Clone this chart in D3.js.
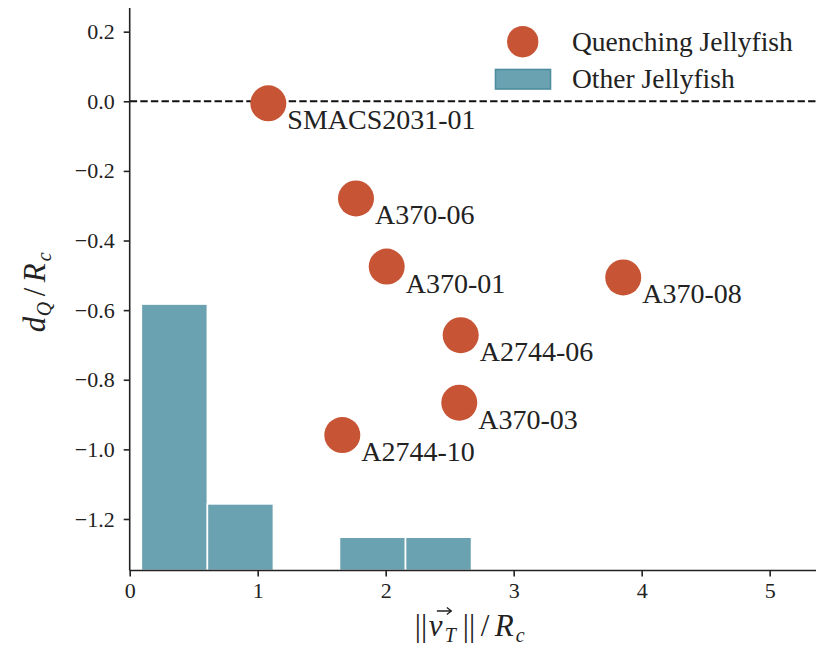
<!DOCTYPE html>
<html>
<head>
<meta charset="utf-8">
<script src="https://cdn.jsdelivr.net/npm/d3@7"></script>
<style>
  html, body { margin: 0; padding: 0; background: #fff; }
  svg { display: block; }
  text { font-family: "Liberation Serif", "Times New Roman", serif; fill: #222; }
</style>
</head>
<body>
<svg id="chart" width="816" height="648"></svg>
<script>
// Quenching jellyfish: projected velocity vs. quenching distance
const galaxyNames = ["SMACS2031-01", "A370-06", "A370-01", "A370-08", "A2744-06", "A370-03", "A2744-10"];
const velocityValues = [1.083, 1.768, 2.008, 3.856, 2.586, 2.575, 1.661];
const quenchDistValues = [-0.006, -0.279, -0.475, -0.506, -0.672, -0.866, -0.959];

// Other jellyfish: histogram of ||v_T||/R_c
const binEdges = [0.091, 0.607, 1.123, 1.639, 2.155, 2.671];
const binCounts = [8, 2, 0, 1, 1];

const xTickValues = [0, 1, 2, 3, 4, 5];
const yTickValues = [0.2, 0.0, -0.2, -0.4, -0.6, -0.8, -1.0, -1.2];
const legendLabels = ["Quenching Jellyfish", "Other Jellyfish"];

const xDomain = [0, 5.362];
const yDomain = [-1.348, 0.268];
const histPeak = -0.5825; // top of the tallest histogram bar, in d_Q/R_c units

const orange = "#c75434";
const teal = "#6ba2b1";
const tealEdge = "#4d8d9e";
const ink = "#222";

const svg = d3.select("#chart");
const plot = { left: 129.7, right: 816, top: 8, bottom: 570.5 };

const x = d3.scaleLinear().domain(xDomain).range([plot.left, plot.right]);
const y = d3.scaleLinear().domain(yDomain).range([plot.bottom, plot.top]);
const countScale = d3.scaleLinear().domain([0, d3.max(binCounts)]).range([yDomain[0], histPeak]);

const bins = binCounts.map((c, i) => ({ x0: binEdges[i], x1: binEdges[i + 1], count: c }));

// Histogram bars
svg.append("g").selectAll("rect")
  .data(bins.filter(b => b.count > 0))
  .join("rect")
  .attr("x", d => x(d.x0))
  .attr("width", d => x(d.x1) - x(d.x0))
  .attr("y", d => y(countScale(d.count)))
  .attr("height", d => y(yDomain[0]) - y(countScale(d.count)))
  .attr("fill", teal)
  .attr("stroke", "#fff")
  .attr("stroke-width", 1.6);

// Reference line at d_Q = 0
svg.append("line")
  .attr("x1", plot.left).attr("x2", plot.right)
  .attr("y1", y(0)).attr("y2", y(0))
  .attr("stroke", "#111")
  .attr("stroke-width", 2)
  .attr("stroke-dasharray", "7.4,3.2");

// Axes
const fmt = v => (v < 0 ? "\u2212" : "") + d3.format(".1f")(Math.abs(v));
const xAxis = d3.axisBottom(x).tickValues(xTickValues).tickFormat(d3.format("d")).tickSize(6).tickPadding(6);
const yAxis = d3.axisLeft(y).tickValues(yTickValues).tickFormat(fmt).tickSize(6).tickPadding(9);

const gx = svg.append("g").attr("transform", `translate(0,${plot.bottom})`).call(xAxis);
const gy = svg.append("g").attr("transform", `translate(${plot.left},0)`).call(yAxis);

[gx, gy].forEach(g => {
  g.attr("font-family", null);
  g.select(".domain").attr("stroke", ink).attr("stroke-width", 1.6);
  g.selectAll(".tick line").attr("stroke", ink).attr("stroke-width", 1.6);
  g.selectAll(".tick text")
    .attr("fill", ink)
    .style("font-family", "'Liberation Serif', serif")
    .style("font-size", "22px");
});
gx.select(".domain").attr("d", `M${plot.left},0H${plot.right}`);
gy.select(".domain").attr("d", `M0,${plot.bottom}V${plot.top}`);

// Scatter points and their names
const points = galaxyNames.map((n, i) => ({ name: n, vx: velocityValues[i], dq: quenchDistValues[i] }));
const pg = svg.append("g");
pg.selectAll("circle")
  .data(points)
  .join("circle")
  .attr("cx", d => x(d.vx))
  .attr("cy", d => y(d.dq))
  .attr("r", 18)
  .attr("fill", orange);
pg.selectAll("text")
  .data(points)
  .join("text")
  .attr("x", d => x(d.vx) + 19)
  .attr("y", d => y(d.dq) + 26)
  .style("font-size", "28px")
  .text(d => d.name);

// Legend
const lg = svg.append("g");
lg.append("circle").attr("cx", 522.7).attr("cy", 41.7).attr("r", 15.7).attr("fill", orange);
lg.append("rect").attr("x", 495.5).attr("y", 69.5).attr("width", 55).attr("height", 19.5)
  .attr("fill", teal).attr("stroke", tealEdge).attr("stroke-width", 1.6);
lg.selectAll("text.leg")
  .data(legendLabels)
  .join("text")
  .attr("class", "leg")
  .attr("x", 572)
  .attr("y", (d, i) => 51 + i * 36.5)
  .style("font-size", "27.5px")
  .text(d => d);

// Math-style axis label: pieces laid out along the baseline
function mathLabel(g, pieces) {
  g.selectAll("text")
    .data(pieces)
    .join("text")
    .attr("x", d => d.at)
    .attr("y", d => (d.sub ? 6 : 0))
    .style("font-size", d => (d.sub ? "20px" : "31px"))
    .style("font-style", d => (d.it ? "italic" : "normal"))
    .text(d => d.s);
}

// x-axis label: ||v_T||/R_c with an arrow over v
const xlg = svg.append("g").attr("transform", `translate(${x((xDomain[0] + xDomain[1]) / 2) - 58},636)`);
mathLabel(xlg, [
  { s: "||", at: 0 },
  { s: "v", at: 14, it: true },
  { s: "T", at: 30, it: true, sub: true },
  { s: "||", at: 48 },
  { s: "/", at: 66 },
  { s: "R", at: 80, it: true },
  { s: "c", at: 101, it: true, sub: true }
]);
xlg.append("path")
  .attr("d", "M22,-25H36M32,-28.5L36.5,-25L32,-21.5")
  .attr("fill", "none")
  .attr("stroke", ink)
  .attr("stroke-width", 1.3);

// y-axis label: d_Q/R_c
const ylg = svg.append("g").attr("transform", `translate(45,${(plot.top + plot.bottom) / 2 + 43}) rotate(-90)`);
mathLabel(ylg, [
  { s: "d", at: 0, it: true },
  { s: "Q", at: 16, it: true, sub: true },
  { s: "/", at: 36 },
  { s: "R", at: 50, it: true },
  { s: "c", at: 71, it: true, sub: true }
]);
</script>
</body>
</html>
